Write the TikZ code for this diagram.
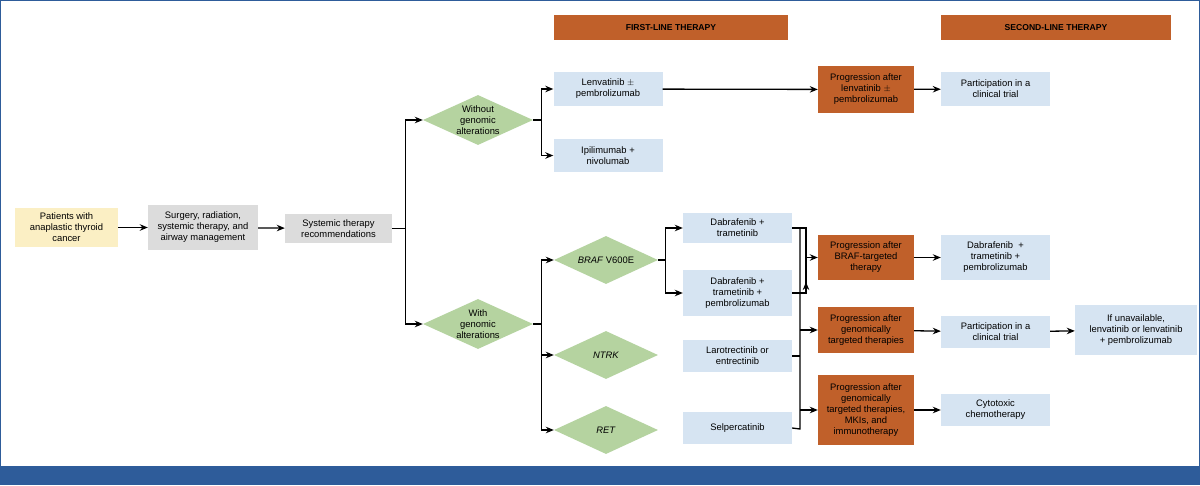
\documentclass[tikz,border=0pt]{standalone}
\usepackage{fontspec}
\setmainfont{Liberation Sans}
\usetikzlibrary{shapes.geometric,arrows.meta}
\definecolor{yel}{HTML}{FBEFC4}
\definecolor{gry}{HTML}{DCDCDC}
\definecolor{grn}{HTML}{B5D3A0}
\definecolor{lb}{HTML}{D6E4F2}
\definecolor{org}{HTML}{C0602A}
\definecolor{frame}{HTML}{2E5C9A}
\begin{document}
\begin{tikzpicture}[x=1pt,y=-1pt,
  every node/.style={font=\fontsize{9.4}{11}\selectfont,align=center,inner sep=1pt},
  b/.style={fill=lb,minimum width=109,minimum height=33},
  p/.style={fill=org,minimum width=96,text=black},
  dia/.style={diamond,fill=grn,aspect=2.2,minimum width=110,minimum height=50,inner sep=0pt},
  arr/.style={-{Stealth[length=8pt,width=6.5pt]},line width=1.3pt},
  ln/.style={line width=1.3pt}]
\useasboundingbox (0,0) rectangle (1200,485);
\fill[white] (0,0) rectangle (1200,485);
\draw[frame,line width=1pt] (0.5,0.5) rectangle (1199.5,466);
\fill[frame] (0,466) rectangle (1200,485);
% headers
\node[fill=org,minimum width=234,minimum height=25,font=\fontsize{8.6}{10}\selectfont\bfseries] (h1) at (671,27.5) {FIRST-LINE THERAPY};
\node[fill=org,minimum width=230,minimum height=25,font=\fontsize{8.6}{10}\selectfont\bfseries] (h2) at (1056,27.5) {SECOND-LINE THERAPY};
% left
\node[fill=yel,minimum width=103,minimum height=39] (pat) at (66.5,227.5) {Patients with\\anaplastic thyroid\\cancer};
\node[fill=gry,minimum width=110,minimum height=45] (sur) at (203,227.5) {Surgery, radiation,\\systemic therapy, and\\airway management};
\node[fill=gry,minimum width=107,minimum height=29] (sys) at (338.5,228.5) {Systemic therapy\\recommendations};
\node[dia] (wo) at (478,120) {Without\\genomic\\alterations};
\node[dia] (wi) at (478,324) {With\\genomic\\alterations};
\node[dia,minimum width=104,minimum height=48] (braf) at (606,260) {\textit{BRAF} V600E};
\node[dia,minimum width=104,minimum height=48] (ntrk) at (606,355) {\textit{NTRK}};
\node[dia,minimum width=104,minimum height=48] (ret) at (606,430) {\textit{RET}};
% first line
\node[b,minimum height=34] (len) at (608,89) {Lenvatinib $\pm$\\pembrolizumab};
\node[b] (ipi) at (608,155.5) {Ipilimumab +\\nivolumab};
\node[b,minimum height=30] (dt) at (737.5,228) {Dabrafenib +\\trametinib};
\node[b,minimum height=46] (dtp) at (737.5,293) {Dabrafenib +\\trametinib +\\pembrolizumab};
\node[b,minimum height=32] (lar) at (737.5,356) {Larotrectinib or\\entrectinib};
\node[b,minimum height=32] (sel) at (737.5,428) {Selpercatinib};
% progression
\node[p,minimum height=47] (p1) at (866,89.5) {Progression after\\lenvatinib $\pm$\\pembrolizumab};
\node[p,minimum height=45] (p2) at (866,257.5) {Progression after\\BRAF-targeted\\therapy};
\node[p,minimum height=46] (p3) at (866,330) {Progression after\\genomically\\targeted therapies};
\node[p,minimum height=70] (p4) at (866,410) {Progression after\\genomically\\targeted therapies,\\MKIs, and\\immunotherapy};
% second line
\node[b,minimum height=34] (s1) at (995.5,89) {Participation in a\\clinical trial};
\node[b,minimum height=45] (s2) at (995.5,257.5) {Dabrafenib\ \ +\\trametinib +\\pembrolizumab};
\node[b,minimum height=32] (s3) at (995.5,332) {Participation in a\\clinical trial};
\node[b,minimum width=122,minimum height=50] (s4) at (1136,330) {If unavailable,\\lenvatinib or lenvatinib\\+ pembrolizumab};
\node[b,minimum height=32] (s5) at (995.5,410) {Cytotoxic\\chemotherapy};
% connectors
\draw[arr] (pat) -- (sur);
\draw[arr] (sur) -- (sys);
\draw[arr] (sys.east) -- ++(13,0) |- (wo.west);
\draw[arr] (sys.east) -- ++(13,0) |- (wi.west);
\draw[arr] (wo.east) -- ++(8,0) |- (len.west);
\draw[arr] (wo.east) -- ++(8,0) |- (ipi.west);
\draw[arr] (wi.east) -- ++(8,0) |- (braf.west);
\draw[arr] (wi.east) -- ++(8,0) |- (ntrk.west);
\draw[arr] (wi.east) -- ++(8,0) |- (ret.west);
\draw[arr] (braf.east) -- ++(7,0) |- (dt.west);
\draw[arr] (braf.east) -- ++(7,0) |- (dtp.west);
\draw[arr] (len) -- (p1);
\draw[arr] (p1) -- (s1);
\draw[arr] (p2) -- (s2);
\draw[arr] (p3) -- (s3);
\draw[arr] (s3) -- (s4);
\draw[arr] (p4) -- (s5);
% bus
\coordinate (bA) at (806,228);
\coordinate (bB) at (800,228);
\draw[ln] (dt.east) -- (bA) -- (806,292);
\draw[arr] (dtp.east) -- (806,293) -- (806,282);
\draw[arr] (806,257.5) -- (p2.west);
\draw[ln] (dt.east) -- (bB) -- (800,429) -- (sel.east);
\draw[ln] (lar.east) -- (800,356);
\draw[arr] (800,330) -- (p3.west);
\draw[arr] (800,410) -- (p4.west);
\end{tikzpicture}
\end{document}
